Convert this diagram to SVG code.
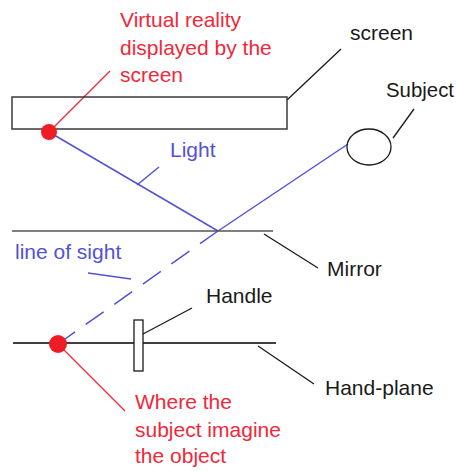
<svg xmlns="http://www.w3.org/2000/svg" width="456" height="471" viewBox="0 0 456 471">
<style>
text{font-family:"Liberation Sans","Open Sans",Arial,sans-serif;font-size:21px}
.k{fill:#1a1a1a}
.r{fill:#f0283a}
.b{fill:#5252d6}
.ln{fill:none;stroke:#1a1a1a;stroke-width:1.3}
.rl{fill:none;stroke:#f0283a;stroke-width:1.3}
.bl{fill:none;stroke:#5252d6;stroke-width:1.5}
</style>
<rect width="456" height="471" fill="#fff"/>
<g id="connectors">
<line class="bl" x1="49" y1="132" x2="218" y2="231"/>
<line class="bl" x1="348" y1="144" x2="218" y2="231"/>
<line class="bl" x1="218" y1="231" x2="58" y2="344" stroke-dasharray="22 13"/>
<line class="bl" x1="137" y1="185" x2="159" y2="167"/>
<line class="bl" x1="88" y1="273" x2="131" y2="279"/>
<line class="rl" x1="49" y1="132" x2="110" y2="71"/>
<line class="rl" x1="58" y1="344" x2="125" y2="411"/>
<line class="ln" x1="287" y1="100" x2="341" y2="49"/>
<line class="ln" x1="393" y1="138" x2="414" y2="109"/>
<line class="ln" x1="264" y1="234" x2="318" y2="268"/>
<line class="ln" x1="143" y1="334" x2="192" y2="308"/>
<line class="ln" x1="258" y1="346" x2="314" y2="384"/>
</g>
<g id="screen">
<rect x="12" y="97" width="275" height="32" fill="none" stroke="#3a3a3a" stroke-width="1.5"/>
<text class="k" x="350" y="40">screen</text>
</g>
<g id="subject">
<ellipse cx="369" cy="147" rx="22" ry="18" fill="none" stroke="#1a1a1a" stroke-width="1.3"/>
<text class="k" x="386" y="97" textLength="68" lengthAdjust="spacingAndGlyphs">Subject</text>
</g>
<g id="mirror">
<line x1="12" y1="231" x2="273" y2="231" stroke="#555" stroke-width="1.6"/>
<text class="k" x="327" y="276">Mirror</text>
</g>
<g id="hand-plane">
<line x1="13" y1="343" x2="276" y2="343" stroke="#000" stroke-width="1.4"/>
<text class="k" x="325" y="395">Hand-plane</text>
</g>
<g id="handle">
<rect x="134" y="320" width="9" height="51" fill="#fff" stroke="#1a1a1a" stroke-width="1.3"/>
<text class="k" x="206" y="303">Handle</text>
</g>
<g id="virtual-point">
<circle cx="49" cy="132" r="8" fill="#ee1c25"/>
<text class="r" x="120" y="27">Virtual reality</text>
<text class="r" x="120" y="55">displayed by the</text>
<text class="r" x="120" y="82">screen</text>
</g>
<g id="imagined-point">
<circle cx="58" cy="344" r="9" fill="#ee1c25"/>
<text class="r" x="135" y="409">Where the</text>
<text class="r" x="135" y="437">subject imagine</text>
<text class="r" x="135" y="463">the object</text>
</g>
<g id="labels">
<text class="b" x="170" y="157">Light</text>
<text class="b" x="15" y="259">line of sight</text>
</g>
</svg>
